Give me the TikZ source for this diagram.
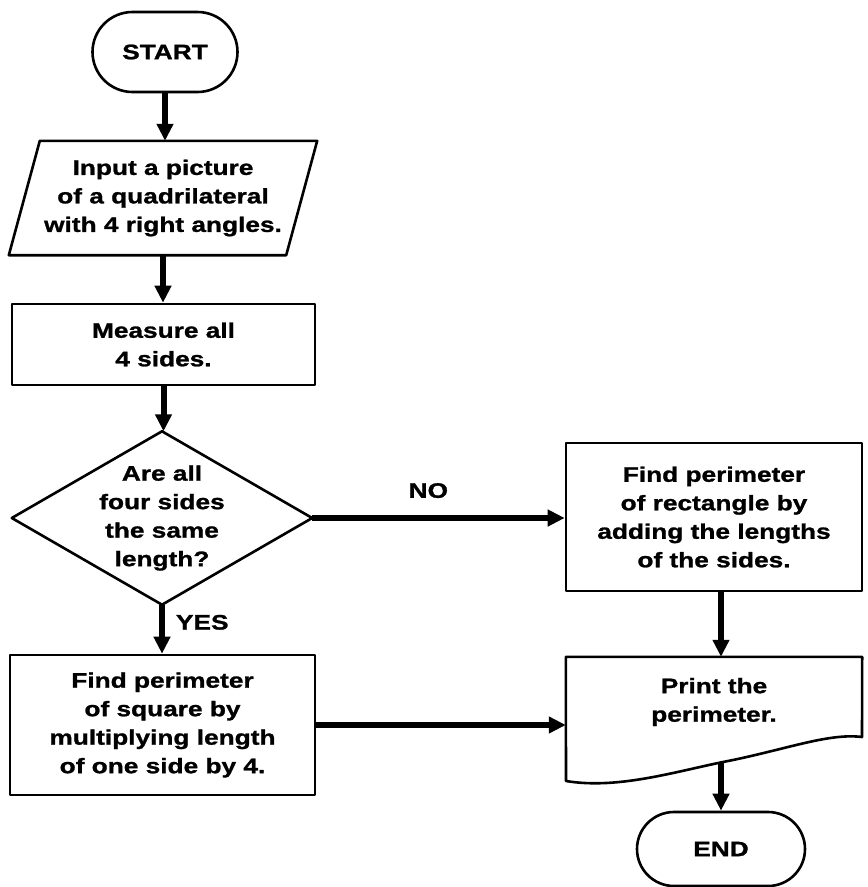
\documentclass[tikz,border=0pt]{standalone}
\usepackage{fontspec}
\newfontfamily\flowfont{Liberation Sans}[FakeStretch=1.25, BoldFeatures={FakeBold=1.2}]
\usetikzlibrary{shapes.misc,arrows.meta}

\tikzset{
  txt/.style={font=\flowfont\bfseries\fontsize{21}{28.5}\selectfont, align=center, inner sep=0pt},
  outline/.style={line width=2.6pt, line join=round},
  plain/.style={txt},
  proc/.style={txt, draw, outline},
  term/.style={txt, draw, outline, rounded rectangle},
  flow/.style={line width=6pt, -{Triangle[length=17pt,width=16pt]}},
  lbl/.style={font=\flowfont\bfseries\fontsize{21}{25}\selectfont, inner sep=0pt},
}

\begin{document}
\begin{tikzpicture}[x=1pt, y=-1pt]
  \fill[white] (0,0) rectangle (868,887);
  \useasboundingbox (0,0) rectangle (868,887);

  % terminals
  \node[term, minimum width=145pt, minimum height=80pt] (start) at (165,52) {START};
  \node[term, minimum width=168pt, minimum height=74pt] (end) at (721,849) {END};

  % input parallelogram
  \node[plain, minimum width=308pt, minimum height=114pt] (input) at (163,198)
    {Input a picture\\of a quadrilateral\\with 4 right angles.};
  \draw[outline] (input.south west) -- ([xshift=-31pt]input.south east)
    -- (input.north east) -- ([xshift=31pt]input.north west) -- cycle;

  % process boxes
  \node[proc, minimum width=303pt, minimum height=81pt] (measure) at (163.5,344.5)
    {Measure all\\4 sides.};
  \node[proc, minimum width=296pt, minimum height=148pt] (rect) at (714,517)
    {Find perimeter\\of rectangle by\\adding the lengths\\of the sides.};
  \node[proc, minimum width=305pt, minimum height=140pt] (square) at (162.5,725)
    {Find perimeter\\of square by\\multiplying length\\of one side by 4.};

  % decision diamond
  \node[plain, minimum width=300pt, minimum height=173pt] (dec) at (162,518)
    {Are all\\four sides\\the same\\length?};
  \draw[outline] (dec.north) -- (dec.east) -- (dec.south) -- (dec.west) -- cycle;

  % output document
  \node[plain, minimum width=296pt, minimum height=90pt] (doc) at (714,702)
    {Print the\\perimeter.};
  \draw[outline] (doc.north west) -- (doc.north east) -- (862,737)
    .. controls (830,733) and (790,748) .. (733,760)
    .. controls (680,770) and (620,790) .. (566,781) -- cycle;
  \coordinate (docout) at (721,763);

  % connectors
  \draw[flow] (start.south) -- (start.south |- input.north);
  \draw[flow] (input.south) -- (input.south |- measure.north);
  \draw[flow] (measure.south) -- (measure.south |- dec.north);
  \draw[flow] (dec.east) -- node[lbl, pos=0.46, anchor=south, yshift=17pt] {NO}
    (dec.east -| rect.west);
  \draw[flow] (dec.south) -- node[lbl, pos=0.36, anchor=west, xshift=11pt] {YES}
    (dec.south |- square.north);
  \draw[flow] (square.east) -- (square.east -| doc.west);
  \draw[flow] (rect.south -| end.north) -- (end.north |- doc.north);
  \draw[flow] (docout) -- (end.north);
\end{tikzpicture}
\end{document}
